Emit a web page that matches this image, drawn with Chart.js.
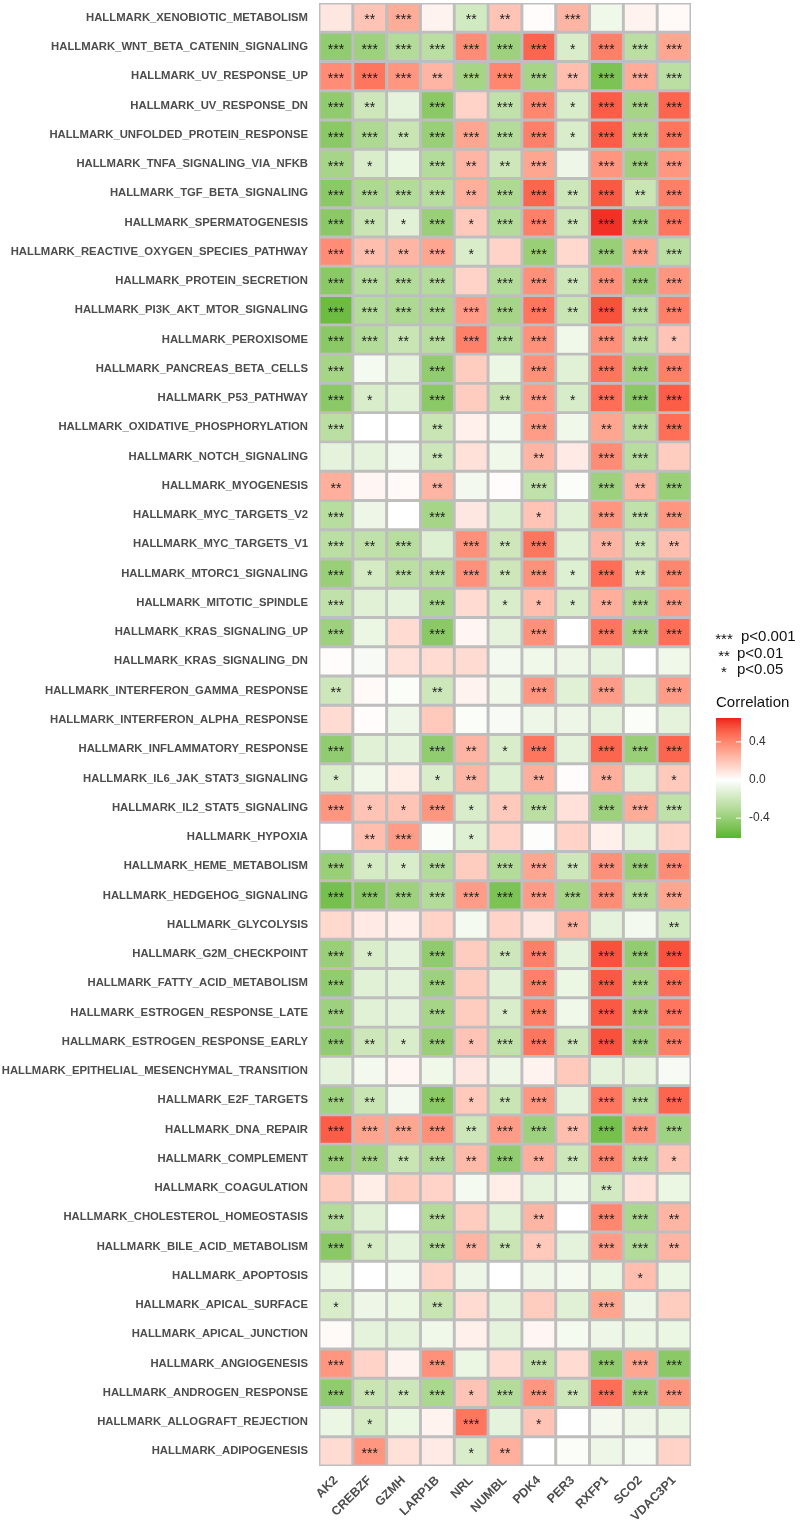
<!DOCTYPE html>
<html>
<head>
<meta charset="utf-8">
<script src="https://cdn.jsdelivr.net/npm/chart.js@4.4.1/dist/chart.umd.min.js"></script>
<style>
  html, body { margin: 0; background: #fff; }
  #wrap { width: 800px; height: 1527px; position: relative; }
</style>
</head>
<body>
<div id="wrap"><canvas id="heat"></canvas></div>
<script>
const pathways = [
  "HALLMARK_XENOBIOTIC_METABOLISM", "HALLMARK_WNT_BETA_CATENIN_SIGNALING", "HALLMARK_UV_RESPONSE_UP",
  "HALLMARK_UV_RESPONSE_DN", "HALLMARK_UNFOLDED_PROTEIN_RESPONSE", "HALLMARK_TNFA_SIGNALING_VIA_NFKB",
  "HALLMARK_TGF_BETA_SIGNALING", "HALLMARK_SPERMATOGENESIS", "HALLMARK_REACTIVE_OXYGEN_SPECIES_PATHWAY",
  "HALLMARK_PROTEIN_SECRETION", "HALLMARK_PI3K_AKT_MTOR_SIGNALING", "HALLMARK_PEROXISOME",
  "HALLMARK_PANCREAS_BETA_CELLS", "HALLMARK_P53_PATHWAY", "HALLMARK_OXIDATIVE_PHOSPHORYLATION",
  "HALLMARK_NOTCH_SIGNALING", "HALLMARK_MYOGENESIS", "HALLMARK_MYC_TARGETS_V2", "HALLMARK_MYC_TARGETS_V1",
  "HALLMARK_MTORC1_SIGNALING", "HALLMARK_MITOTIC_SPINDLE", "HALLMARK_KRAS_SIGNALING_UP",
  "HALLMARK_KRAS_SIGNALING_DN", "HALLMARK_INTERFERON_GAMMA_RESPONSE", "HALLMARK_INTERFERON_ALPHA_RESPONSE",
  "HALLMARK_INFLAMMATORY_RESPONSE", "HALLMARK_IL6_JAK_STAT3_SIGNALING", "HALLMARK_IL2_STAT5_SIGNALING",
  "HALLMARK_HYPOXIA", "HALLMARK_HEME_METABOLISM", "HALLMARK_HEDGEHOG_SIGNALING", "HALLMARK_GLYCOLYSIS",
  "HALLMARK_G2M_CHECKPOINT", "HALLMARK_FATTY_ACID_METABOLISM", "HALLMARK_ESTROGEN_RESPONSE_LATE",
  "HALLMARK_ESTROGEN_RESPONSE_EARLY", "HALLMARK_EPITHELIAL_MESENCHYMAL_TRANSITION", "HALLMARK_E2F_TARGETS",
  "HALLMARK_DNA_REPAIR", "HALLMARK_COMPLEMENT", "HALLMARK_COAGULATION", "HALLMARK_CHOLESTEROL_HOMEOSTASIS",
  "HALLMARK_BILE_ACID_METABOLISM", "HALLMARK_APOPTOSIS", "HALLMARK_APICAL_SURFACE", "HALLMARK_APICAL_JUNCTION",
  "HALLMARK_ANGIOGENESIS", "HALLMARK_ANDROGEN_RESPONSE", "HALLMARK_ALLOGRAFT_REJECTION", "HALLMARK_ADIPOGENESIS"
];
const genes = ["AK2", "CREBZF", "GZMH", "LARP1B", "NRL", "NUMBL", "PDK4", "PER3", "RXFP1", "SCO2", "VDAC3P1"];

// correlation per gene, in pathway order (top to bottom)
const corrAK2 = [0.08,-0.42,0.38,-0.43,-0.45,-0.35,-0.45,-0.45,0.38,-0.45, -0.55,-0.45,-0.35,-0.45,-0.27,-0.1,0.27,-0.28,-0.27,-0.4,
  -0.25,-0.38,0.01,-0.2,0.12,-0.42,-0.15,0.35,0.0,-0.4, -0.52,0.13,-0.4,-0.42,-0.38,-0.42,-0.1,-0.37,0.52,-0.4,
  0.17,-0.3,-0.45,-0.08,-0.15,0.02,0.35,-0.43,-0.08,0.12];
const corrCREBZF = [0.2,-0.38,0.45,-0.2,-0.32,-0.15,-0.32,-0.22,0.22,-0.28, -0.3,-0.3,-0.04,-0.15,0.0,-0.1,0.03,-0.07,-0.25,-0.17,
  -0.12,-0.08,-0.03,0.02,0.01,-0.12,-0.06,0.2,0.22,-0.17, -0.45,0.07,-0.15,-0.12,-0.12,-0.2,-0.05,-0.22,0.3,-0.35,
  0.06,-0.12,-0.17,0.0,-0.07,-0.1,0.15,-0.22,-0.17,0.35];
const corrGZMH = [0.28,-0.3,0.35,-0.1,-0.22,-0.08,-0.3,-0.12,0.25,-0.3, -0.32,-0.22,-0.1,-0.12,0.0,-0.05,0.02,0.0,-0.28,-0.27,
  -0.1,0.12,0.1,-0.02,-0.07,-0.1,0.06,0.2,0.33,-0.15, -0.38,0.05,-0.1,-0.1,-0.1,-0.15,0.03,-0.05,0.3,-0.22,
  0.17,0.0,-0.1,-0.04,-0.08,-0.1,0.04,-0.2,-0.08,0.1];
const corrLARP1B = [0.04,-0.27,0.25,-0.45,-0.4,-0.3,-0.28,-0.4,0.3,-0.3, -0.33,-0.28,-0.42,-0.45,-0.22,-0.2,0.25,-0.35,-0.13,-0.28,
  -0.33,-0.45,0.12,-0.2,0.18,-0.42,-0.15,0.35,-0.02,-0.3, -0.3,0.15,-0.43,-0.38,-0.35,-0.4,-0.06,-0.45,0.37,-0.3,
  0.15,-0.3,-0.3,0.15,-0.22,-0.06,0.37,-0.33,0.04,0.07];
const corrNRL = [-0.18,0.38,-0.35,0.15,0.3,0.25,0.27,0.18,-0.15,0.15, 0.33,0.42,0.17,0.17,0.05,0.1,-0.05,0.08,0.37,0.37,
  0.12,0.03,0.12,0.04,-0.02,0.25,0.25,-0.15,-0.13,0.17, 0.33,-0.04,0.17,0.17,0.17,0.2,0.08,0.18,-0.2,0.23,
  -0.04,0.17,0.25,-0.07,0.12,0.05,-0.08,0.2,0.45,-0.15];
const corrNUMBL = [0.2,-0.38,0.4,-0.25,-0.3,-0.2,-0.32,-0.3,0.15,-0.3, -0.35,-0.3,-0.08,-0.22,-0.04,-0.06,0.01,-0.13,-0.2,-0.2,
  -0.15,-0.1,-0.05,-0.06,-0.03,-0.15,-0.13,0.18,0.15,-0.3, -0.5,0.15,-0.2,-0.12,-0.15,-0.25,-0.07,-0.22,0.33,-0.42,
  0.06,-0.12,-0.22,0.0,-0.1,-0.1,0.12,-0.3,-0.1,0.27];
const corrPDK4 = [0.01,0.5,-0.35,0.4,0.42,0.3,0.5,0.42,-0.4,0.37, 0.45,0.37,0.37,0.33,0.33,0.25,-0.25,0.2,0.45,0.37,
  0.22,0.37,-0.06,0.35,-0.07,0.45,0.27,-0.27,-0.01,0.3, 0.33,0.08,0.42,0.42,0.42,0.45,0.04,0.35,-0.38,0.27,
  -0.1,0.25,0.18,-0.07,0.17,0.03,-0.25,0.35,0.2,0.0];
const corrPER3 = [0.25,-0.15,0.22,-0.15,-0.15,-0.07,-0.2,-0.2,0.13,-0.2, -0.22,-0.06,-0.12,-0.16,-0.06,0.07,-0.02,-0.12,-0.12,-0.13,
  -0.15,0.0,-0.07,-0.12,-0.07,-0.1,0.01,0.1,0.15,-0.2, -0.35,0.25,-0.1,-0.08,-0.06,-0.2,0.18,-0.1,0.22,-0.2,
  -0.06,0.0,-0.1,-0.04,-0.12,-0.04,0.12,-0.2,0.0,-0.02];
const corrRXFP1 = [-0.06,0.42,-0.5,0.52,0.52,0.35,0.53,0.62,-0.4,0.37, 0.55,0.37,0.45,0.47,0.3,0.38,-0.38,0.35,0.25,0.47,
  0.27,0.45,-0.1,0.33,-0.1,0.5,0.27,-0.38,0.05,0.37, 0.38,-0.1,0.55,0.53,0.53,0.55,-0.1,0.45,-0.52,0.4,
  -0.18,0.4,0.33,-0.08,0.3,-0.07,-0.43,0.47,-0.05,-0.07];
const corrSCO2 = [0.04,-0.27,0.28,-0.35,-0.33,-0.38,-0.22,-0.37,0.3,-0.4, -0.28,-0.27,-0.37,-0.45,-0.28,-0.28,0.25,-0.25,-0.2,-0.2,
  -0.3,-0.35,0.0,-0.12,-0.02,-0.4,-0.12,0.28,-0.1,-0.4, -0.3,-0.05,-0.42,-0.35,-0.38,-0.38,-0.1,-0.3,0.35,-0.3,
  0.1,-0.33,-0.3,0.22,-0.07,-0.08,0.3,-0.38,-0.07,-0.04];
const corrVDAC3P1 = [0.02,0.3,-0.27,0.5,0.45,0.35,0.42,0.45,-0.27,0.35, 0.42,0.2,0.42,0.52,0.47,0.17,-0.4,0.35,0.22,0.4,
  0.33,0.47,-0.06,0.33,-0.1,0.5,0.18,-0.25,0.15,0.38, 0.3,-0.18,0.55,0.47,0.45,0.43,-0.03,0.5,-0.37,0.2,
  -0.08,0.25,0.25,-0.08,0.17,-0.08,-0.45,0.35,-0.08,0.15];

// significance level per cell: 0 none, 1 p<0.05, 2 p<0.01, 3 p<0.001
const sigAK2 = [0,3,3,3,3,3,3,3,3,3, 3,3,3,3,3,0,2,3,3,3, 3,3,0,2,0,3,1,3,0,3, 3,0,3,3,3,3,0,3,3,3, 0,3,3,0,1,0,3,3,0,0];
const sigCREBZF = [2,3,3,2,3,1,3,2,2,3, 3,3,0,1,0,0,0,0,2,1, 0,0,0,0,0,0,0,1,2,1, 3,0,1,0,0,2,0,2,3,3, 0,0,1,0,0,0,0,2,1,3];
const sigGZMH = [3,3,3,0,2,0,3,1,2,3, 3,2,0,0,0,0,0,0,3,3, 0,0,0,0,0,0,0,1,3,1, 3,0,0,0,0,1,0,0,3,2, 0,0,0,0,0,0,0,2,0,0];
const sigLARP1B = [0,3,2,3,3,3,3,3,3,3, 3,3,3,3,2,2,2,3,0,3, 3,3,0,2,0,3,1,3,0,3, 3,0,3,3,3,3,0,3,3,3, 0,3,3,0,2,0,3,3,0,0];
const sigNRL = [2,3,3,0,3,2,2,1,1,0, 3,3,0,0,0,0,0,0,3,3, 0,0,0,0,0,2,2,1,1,0, 3,0,0,0,0,1,0,1,2,2, 0,0,2,0,0,0,0,1,3,1];
const sigNUMBL = [2,3,3,3,3,2,3,3,0,3, 3,3,0,2,0,0,0,0,2,2, 1,0,0,0,0,1,0,1,0,3, 3,0,2,0,1,3,0,2,3,3, 0,0,2,0,0,0,0,3,0,2];
const sigPDK4 = [0,3,3,3,3,3,3,3,3,3, 3,3,3,3,3,2,3,1,3,3, 1,3,0,3,0,3,2,3,0,3, 3,0,3,3,3,3,0,3,3,2, 0,2,1,0,0,0,3,3,1,0];
const sigPER3 = [3,1,2,1,1,0,2,2,0,2, 2,0,0,1,0,0,0,0,0,1, 1,0,0,0,0,0,0,0,0,2, 3,2,0,0,0,2,0,0,2,2, 0,0,0,0,0,0,0,2,0,0];
const sigRXFP1 = [0,3,3,3,3,3,3,3,3,3, 3,3,3,3,2,3,3,3,2,3, 2,3,0,3,0,3,2,3,0,3, 3,0,3,3,3,3,0,3,3,3, 2,3,3,0,3,0,3,3,0,0];
const sigSCO2 = [0,3,3,3,3,3,2,3,3,3, 3,3,3,3,3,3,2,3,2,2, 3,3,0,0,0,3,0,3,0,3, 3,0,3,3,3,3,0,3,3,3, 0,3,3,1,0,0,3,3,0,0];
const sigVDAC3P1 = [0,3,3,3,3,3,3,3,3,3, 3,1,3,3,3,0,3,3,2,3, 3,3,0,3,0,3,1,3,0,3, 3,2,3,3,3,3,0,3,3,1, 0,2,2,0,0,0,3,3,0,0];

const starMarks = ["", "*", "**", "***"];
const legendStars = ["***", "**", "*"];
const legendLabels = ["p<0.001", "p<0.01", "p<0.05"];
const cbarTicks = [0.4, 0.0, -0.4];

const corr = [corrAK2, corrCREBZF, corrGZMH, corrLARP1B, corrNRL, corrNUMBL, corrPDK4, corrPER3, corrRXFP1, corrSCO2, corrVDAC3P1];
const sig = [sigAK2, sigCREBZF, sigGZMH, sigLARP1B, sigNRL, sigNUMBL, sigPDK4, sigPER3, sigRXFP1, sigSCO2, sigVDAC3P1];

// colour scale: green - white - red, interpolated in Lab like ggplot
const HI = 0.65, LO = -0.6;
const FONT = "'Liberation Sans', Arial, Helvetica, sans-serif";

function toLin(c) { c /= 255; return c <= 0.04045 ? c / 12.92 : Math.pow((c + 0.055) / 1.055, 2.4); }
function fromLin(c) {
  c = c <= 0.0031308 ? 12.92 * c : 1.055 * Math.pow(c, 1 / 2.4) - 0.055;
  return Math.round(Math.max(0, Math.min(1, c)) * 255);
}
function hexToLab(hex) {
  const r = toLin(parseInt(hex.slice(1, 3), 16)), g = toLin(parseInt(hex.slice(3, 5), 16)), b = toLin(parseInt(hex.slice(5, 7), 16));
  const X = (0.4124 * r + 0.3576 * g + 0.1805 * b) / 0.95047;
  const Y = 0.2126 * r + 0.7152 * g + 0.0722 * b;
  const Z = (0.0193 * r + 0.1192 * g + 0.9505 * b) / 1.08883;
  const f = t => t > 0.008856 ? Math.cbrt(t) : 7.787 * t + 16 / 116;
  return [116 * f(Y) - 16, 500 * (f(X) - f(Y)), 200 * (f(Y) - f(Z))];
}
function labToRgb([L, a, b]) {
  const fy = (L + 16) / 116, fx = fy + a / 500, fz = fy - b / 200;
  const inv = t => t > 0.206893 ? t * t * t : (t - 16 / 116) / 7.787;
  const X = inv(fx) * 0.95047, Y = inv(fy), Z = inv(fz) * 1.08883;
  const r = 3.2406 * X - 1.5372 * Y - 0.4986 * Z;
  const g = -0.9689 * X + 1.8758 * Y + 0.0415 * Z;
  const bb = 0.0557 * X - 0.2040 * Y + 1.0570 * Z;
  return `rgb(${fromLin(r)},${fromLin(g)},${fromLin(bb)})`;
}
const labWhite = hexToLab("#FFFFFF"), labRed = hexToLab("#EE1C1C"), labGreen = hexToLab("#5CB62E");
function cellColor(v) {
  const end = v >= 0 ? labRed : labGreen;
  const t = Math.min(1, v >= 0 ? v / HI : v / LO);
  return labToRgb(labWhite.map((w, k) => w + (end[k] - w) * t));
}

const starPlugin = {
  id: "stars",
  afterDatasetsDraw(chart) {
    const ctx = chart.ctx;
    ctx.save();
    ctx.fillStyle = "#1a1a1a";
    ctx.font = `14px ${FONT}`;
    ctx.textAlign = "center";
    ctx.textBaseline = "middle";
    chart.data.datasets.forEach((ds, j) => {
      chart.getDatasetMeta(j).data.forEach((bar, i) => {
        const s = starMarks[sig[j][i]];
        if (!s) return;
        const p = bar.getProps(["x", "y", "base"], true);
        ctx.fillText(s, (p.x + p.base) / 2, p.y + 3);
      });
    });
    ctx.restore();
  }
};

const backPlugin = {
  id: "panelBack",
  beforeDatasetsDraw(chart) {
    const { ctx, chartArea: a } = chart;
    ctx.save();
    ctx.fillStyle = "#BEBEBE";
    ctx.fillRect(a.left, a.top, a.right - a.left, a.bottom - a.top);
    ctx.restore();
  }
};

const legendPlugin = {
  id: "sideLegend",
  afterDraw(chart) {
    const ctx = chart.ctx;
    ctx.save();
    ctx.fillStyle = "#111";
    ctx.textBaseline = "middle";
    ctx.font = `15px ${FONT}`;
    legendStars.forEach((s, k) => {
      const y = 637 + k * 16.5;
      ctx.textAlign = "center";
      ctx.fillText(s, 724, y + 3);
      ctx.textAlign = "left";
      ctx.fillText(legendLabels[k], k === 0 ? 741 : 737, y);
    });
    ctx.fillText("Correlation", 716, 703);

    // colour bar
    const x0 = 716, w = 25, yTop = 718, yZero = 780;
    const pxPer = (yZero - yTop) / HI;
    const yBot = yZero - LO * pxPer;
    for (let y = yTop; y < yBot; y++) {
      const v = (yZero - (y + 0.5)) / pxPer;
      ctx.fillStyle = cellColor(v);
      ctx.fillRect(x0, y, w, 1);
    }
    ctx.strokeStyle = "#fff";
    ctx.lineWidth = 1;
    ctx.font = `12px ${FONT}`;
    ctx.textAlign = "left";
    cbarTicks.forEach(t => {
      const y = yZero - t * pxPer;
      ctx.beginPath();
      ctx.moveTo(x0, y); ctx.lineTo(x0 + 5, y);
      ctx.moveTo(x0 + w - 5, y); ctx.lineTo(x0 + w, y);
      ctx.stroke();
      ctx.fillStyle = "#333";
      ctx.fillText(t.toFixed(1), 749, y);
    });
    ctx.restore();
  }
};

const datasets = genes.map((g, j) => ({
  label: g,
  data: pathways.map(() => 1),
  backgroundColor: corr[j].map(cellColor),
  borderColor: "#BEBEBE",
  borderWidth: 1.8,
  borderSkipped: false,
  barPercentage: 1,
  categoryPercentage: 1
}));

new Chart(document.getElementById("heat"), {
  type: "bar",
  data: { labels: pathways, datasets },
  options: {
    indexAxis: "y",
    responsive: true,
    maintainAspectRatio: false,
    animation: false,
    layout: { padding: { top: 3, right: 109, left: 0, bottom: 0 } },
    plugins: { legend: { display: false }, tooltip: { enabled: false } },
    scales: {
      x: {
        type: "linear",
        stacked: true,
        min: 0,
        max: genes.length,
        grid: { display: false, drawTicks: false },
        border: { display: false },
        afterBuildTicks: axis => { axis.ticks = genes.map((g, i) => ({ value: i + 0.5 })); },
        afterFit: axis => { axis.height = 61; },
        ticks: {
          autoSkip: false,
          minRotation: 45,
          maxRotation: 45,
          padding: 7,
          color: "#4D4D4D",
          font: { family: FONT, size: 12.5, weight: "bold" },
          callback: (v, i) => genes[i]
        }
      },
      y: {
        type: "category",
        stacked: true,
        grid: { display: false, drawTicks: false },
        border: { display: false },
        afterFit: axis => { axis.width = 319; axis.paddingTop = 0; axis.paddingBottom = 0; },
        ticks: {
          autoSkip: false,
          padding: 11,
          color: "#4D4D4D",
          font: { family: FONT, size: 11.3, weight: "bold" }
        }
      }
    }
  },
  plugins: [backPlugin, starPlugin, legendPlugin]
});
</script>
</body>
</html>
